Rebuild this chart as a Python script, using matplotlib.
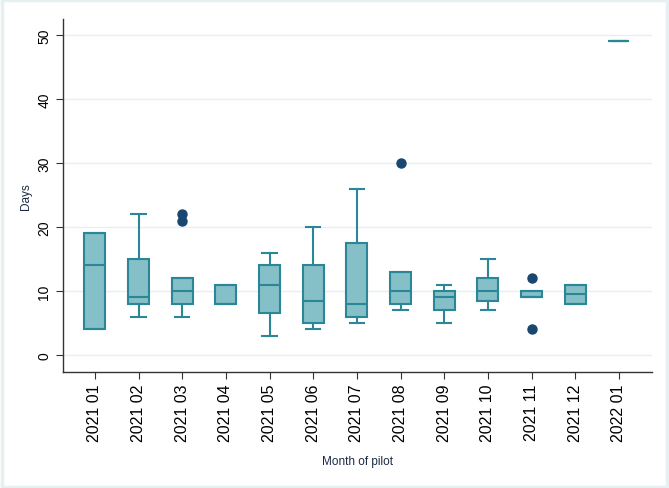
import matplotlib
matplotlib.use("Agg")
import matplotlib.pyplot as plt
from matplotlib.patches import Rectangle

plt.rcParams['font.family'] = ['Liberation Sans', 'DejaVu Sans']

months = ["2021 01", "2021 02", "2021 03", "2021 04", "2021 05", "2021 06", "2021 07",
          "2021 08", "2021 09", "2021 10", "2021 11", "2021 12", "2022 01"]
whislo = [4, 6, 6, 8, 3, 4, 5, 7, 5, 7, 9, 8, 49]
q1 =     [4, 8, 8, 8, 6.5, 5, 6, 8, 7, 8.5, 9, 8, 49]
med =    [14, 9, 10, 8, 11, 8.5, 8, 10, 9, 10, 9, 9.5, 49]
q3 =     [19, 15, 12, 11, 14, 14, 17.5, 13, 10, 12, 10, 11, 49]
whishi = [19, 22, 12, 11, 16, 20, 26, 13, 11, 15, 10, 11, 49]
fliers = [[], [], [21, 22], [], [], [], [], [30], [], [], [4, 12], [], []]
yticks = [0, 10, 20, 30, 40, 50]

edge = "#2a8797"
fill = "#85bfc7"
dot = "#1a476f"

fig = plt.figure(figsize=(6.69, 4.89), dpi=100)
fig.patch.set_facecolor("white")
fig.add_artist(Rectangle((0.003, 0.003), 0.994, 0.994, transform=fig.transFigure,
                         fill=False, edgecolor="#e6eff1", linewidth=2.5))
ax = fig.add_axes([0.0942, 0.2372, 0.8804, 0.7218])

stats = []
for i in range(len(months)):
    stats.append(dict(med=med[i], q1=q1[i], q3=q3[i], whislo=whislo[i],
                      whishi=whishi[i], fliers=fliers[i], label=months[i]))
pos = list(range(len(months)))
ax.bxp(stats, positions=pos, widths=0.48, patch_artist=True, showcaps=True,
       boxprops=dict(facecolor=fill, edgecolor=edge, linewidth=1.5),
       medianprops=dict(color=edge, linewidth=1.5),
       whiskerprops=dict(color=edge, linewidth=1.5),
       capprops=dict(color=edge, linewidth=1.5),
       flierprops=dict(marker='o', markerfacecolor=dot, markeredgecolor=dot, markersize=6.5),
       capwidths=0.33)

ax.set_xlim(-0.73, 12.76)
ax.set_ylim(-2.66, 52.5)
ax.set_yticks(yticks)
ax.set_yticklabels([str(t) for t in yticks], rotation=90, va='center', fontsize=10)
ax.set_xticks(pos)
ax.set_xticklabels(months, rotation=90, fontsize=11.5)
ax.grid(axis='y', color="#e8eff2", linewidth=1)
ax.set_axisbelow(True)
for s in ['top', 'right']:
    ax.spines[s].set_visible(False)
for s in ['left', 'bottom']:
    ax.spines[s].set_color("#333333")
    ax.spines[s].set_linewidth(1)
ax.tick_params(axis='both', colors="#333333", labelcolor="black", length=5)
ax.set_ylabel("Days", fontsize=8.5, color="#1a2a45", labelpad=4)
ax.set_xlabel("Month of pilot", fontsize=8.5, color="#1a2a45", labelpad=10)

fig.savefig("out.png", dpi=100, facecolor=fig.get_facecolor())
